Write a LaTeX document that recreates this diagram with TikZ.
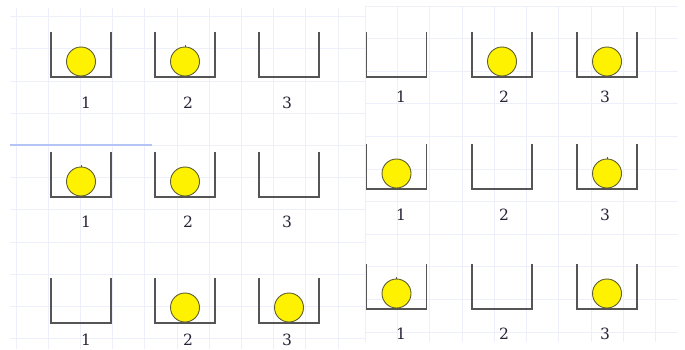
\documentclass[tikz,border=0pt]{standalone}
\usepackage{fontspec}
\setmainfont{DejaVu Serif}
\definecolor{gridc}{HTML}{EDF0FB}
\definecolor{bluec}{HTML}{B4C4F4}
\definecolor{cupc}{HTML}{555555}
\definecolor{ballline}{HTML}{5E5E30}
\definecolor{labelc}{HTML}{2A2236}
\newcommand\mycup[8]{%
  % #1 name, #2 centre x, #3 top y, #4 ball (1/0), #5 label x, #6 label baseline y, #7 text, #8 mark (1/0)
  \draw[cupline] ({#2-30},#3) -- ({#2-30},{#3+45}) -- ({#2+30},{#3+45}) -- ({#2+30},#3);
  \coordinate (#1) at (#2,{#3+45});
  \ifnum#4=1
    \node[ballst] (#1b) at (#2,{#3+45-15.5}) {};
    \ifnum#8=1 \draw[cupc,line width=0.8pt] (#1b.north) -- ++(0,-2); \fi
  \fi
  \node[lbl] (#1l) at (#5,#6) {#7};
}
\begin{document}
\begin{tikzpicture}[x=1pt,y=-1pt,
  gridline/.style={draw=gridc,line width=0.7pt},
  cupline/.style={draw=cupc,line width=1.8pt,line join=miter},
  ballst/.style={circle,draw=ballline,fill=yellow,line width=0.9pt,minimum size=29pt,inner sep=0pt},
  lbl/.style={font=\fontsize{15.5}{15.5}\selectfont,text=labelc,anchor=base}]
\useasboundingbox (0,0) rectangle (685,349);
\fill[white] (0,0) rectangle (685,349);
% left grid
\foreach \i in {0,...,10} \draw[gridline] ({16+32.2*\i},8) -- ({16+32.2*\i},349);
\foreach \i in {0,...,10} \draw[gridline] (10,{16.5+32.2*\i}) -- (365,{16.5+32.2*\i});
\draw[bluec,line width=1.8pt] (10,145) -- (152,145);
% right panel
\fill[white] (365,7) rectangle (678,342);
\foreach \i in {0,...,9} \draw[gridline] ({365+32.3*\i},7) -- ({365+32.3*\i},342);
\foreach \i in {0,...,10} \draw[gridline] (365,{6+32.6*\i}) -- (678,{6+32.6*\i});
% left panel cups
\mycup{La1}{81}{32}{1}{86}{108}{1}{0}
\mycup{La2}{185}{32}{1}{188}{108}{2}{1}
\mycup{La3}{289}{32}{0}{287}{108}{3}{0}
\mycup{Lb1}{81}{152}{1}{86}{227}{1}{1}
\mycup{Lb2}{185}{152}{1}{188}{227}{2}{0}
\mycup{Lb3}{289}{152}{0}{287}{227}{3}{0}
\mycup{Lc1}{81}{278}{0}{86}{345}{1}{0}
\mycup{Lc2}{185}{278}{1}{188}{345}{2}{0}
\mycup{Lc3}{289}{278}{1}{287}{345}{3}{0}
% right panel cups
\mycup{Ra1}{396.5}{32}{0}{401}{102}{1}{0}
\mycup{Ra2}{502}{32}{1}{504}{102}{2}{0}
\mycup{Ra3}{607}{32}{1}{605}{102}{3}{0}
\mycup{Rb1}{396.5}{144}{1}{401}{220}{1}{0}
\mycup{Rb2}{502}{144}{0}{504}{220}{2}{0}
\mycup{Rb3}{607}{144}{1}{605}{220}{3}{1}
\mycup{Rc1}{396.5}{264}{1}{401}{339}{1}{1}
\mycup{Rc2}{502}{264}{0}{504}{339}{2}{0}
\mycup{Rc3}{607}{264}{1}{605}{339}{3}{0}
\end{tikzpicture}
\end{document}
